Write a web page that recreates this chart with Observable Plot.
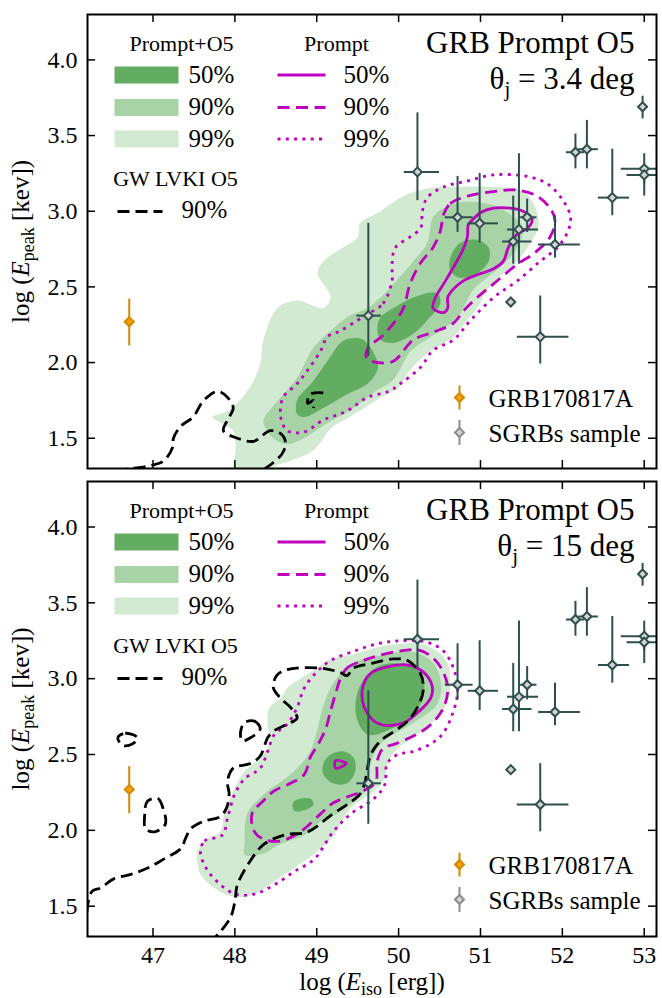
<!DOCTYPE html>
<html>
<head>
<meta charset="utf-8">
<script src="https://cdn.jsdelivr.net/npm/d3@7"></script>
<script src="https://cdn.jsdelivr.net/npm/@observablehq/plot@0.6"></script>
<style>
  html, body { margin: 0; padding: 0; background: #fff; }
  #chart svg { display: block; }
</style>
</head>
<body>
<div id="chart"></div>
<script>
// ---- axes ----
const xDomain = [46.2, 53.15];
const yDomain = [1.3, 4.3];
const xTicks = [47, 48, 49, 50, 51, 52, 53];
const yTicks = [1.5, 2.0, 2.5, 3.0, 3.5, 4.0];

// ---- short GRB sample: log Eiso, log Epeak and error bar ends ----
const sgrbX   = [50.23, 50.72, 50.99, 51.47, 51.57, 51.40, 51.91, 51.37, 51.73, 49.63, 52.16, 52.30, 52.61, 52.98, 53.00, 53.00];
const sgrbY   = [3.26, 2.96, 2.92, 2.88, 2.96, 2.80, 2.78, 2.40, 2.17, 2.31, 3.39, 3.41, 3.09, 3.69, 3.28, 3.24];
const sgrbXlo = [50.07, 50.57, 50.85, 51.33, 51.49, 51.27, 51.71, null, 51.45, 49.49, 52.05, 52.20, 52.44, null, 52.72, 52.79];
const sgrbXhi = [50.50, 50.91, 51.22, 51.71, 51.69, 51.63, 52.22, null, 52.08, 49.79, 52.27, 52.44, 52.82, null, 53.40, 53.40];
const sgrbYlo = [3.07, 2.86, 2.79, 2.65, 2.86, 2.65, 2.69, null, 1.99, 2.04, 3.28, 3.28, 2.97, 3.61, 3.18, 3.10];
const sgrbYhi = [3.65, 3.23, 3.25, 3.38, 3.08, 3.10, 2.97, null, 2.44, 2.92, 3.51, 3.60, 3.41, 3.76, 3.38, 3.30];

// ---- GRB170817A ----
const grbX = [46.71];
const grbY = [2.27];
const grbYlo = [2.11];
const grbYhi = [2.42];

// ---- panel (a): theta_j = 3.4 deg ----
const a99 = [[[47.73,1.64],[47.91,1.68],[48.15,1.81],[48.31,1.99],[48.34,2.13],[48.52,2.36],[48.76,2.41],[49.08,2.36],[49.17,2.43],[49.13,2.48],[49.01,2.59],[49.08,2.67],[49.29,2.75],[49.50,2.83],[49.53,2.92],[49.78,3.00],[50.06,3.10],[50.35,3.15],[50.63,3.16],[51.16,3.16],[51.49,3.14],[51.65,3.05],[51.71,2.94],[51.69,2.87],[51.61,2.79],[51.45,2.67],[51.28,2.59],[51.08,2.48],[50.96,2.36],[50.84,2.28],[50.67,2.17],[50.35,2.06],[50.14,1.95],[49.99,1.83],[49.88,1.80],[49.58,1.70],[49.34,1.62],[49.18,1.57],[48.96,1.42],[48.68,1.35],[48.47,1.31],[48.37,1.22],[48.01,1.22],[48.01,1.46],[47.98,1.55]]];
const a90 = [[[48.35,1.62],[48.56,1.77],[48.76,1.90],[48.96,2.10],[49.17,2.21],[49.37,2.30],[49.62,2.36],[49.78,2.43],[49.94,2.52],[50.18,2.67],[50.35,2.79],[50.42,2.96],[50.55,3.02],[50.75,3.06],[51.16,3.04],[51.36,2.98],[51.49,2.92],[51.51,2.84],[51.45,2.76],[51.28,2.65],[51.08,2.56],[50.91,2.48],[50.72,2.30],[50.42,2.18],[50.14,2.07],[49.94,1.89],[49.69,1.80],[49.45,1.70],[49.13,1.60],[48.84,1.50],[48.64,1.46],[48.47,1.50],[48.37,1.57]]];
const a50 = [
  [[48.76,1.66],[48.76,1.75],[48.96,1.88],[49.13,2.01],[49.29,2.13],[49.41,2.16],[49.57,2.15],[49.74,2.01],[49.74,1.95],[49.62,1.86],[49.37,1.79],[49.08,1.70],[48.84,1.64]],
  [[49.78,2.30],[49.94,2.36],[50.18,2.43],[50.47,2.46],[50.51,2.39],[50.35,2.28],[50.18,2.19],[49.94,2.13],[49.78,2.15],[49.74,2.23]],
  [[50.63,2.69],[50.75,2.79],[50.96,2.81],[51.10,2.76],[51.10,2.67],[50.96,2.59],[50.75,2.56],[50.63,2.61]]
];
const aPrompt50 = [[[50.88,2.93],[51.00,2.99],[51.16,3.02],[51.36,3.02],[51.52,3.00],[51.63,2.95],[51.58,2.89],[51.45,2.85],[51.34,2.76],[51.28,2.67],[51.16,2.62],[50.96,2.58],[50.79,2.54],[50.66,2.48],[50.60,2.43],[50.60,2.36],[50.55,2.33],[50.42,2.36],[50.45,2.43],[50.55,2.52],[50.67,2.63],[50.78,2.74],[50.84,2.83],[50.85,2.91]]];
const aPrompt90 = [[[50.55,2.98],[50.63,3.05],[50.84,3.10],[51.16,3.13],[51.45,3.14],[51.69,3.10],[51.85,3.02],[51.91,2.94],[51.85,2.83],[51.65,2.72],[51.45,2.65],[51.16,2.52],[50.96,2.43],[50.79,2.34],[50.67,2.26],[50.42,2.20],[50.18,2.15],[49.94,2.01],[49.75,2.00],[49.61,2.03],[49.63,2.10],[49.79,2.17],[49.94,2.26],[50.06,2.36],[50.14,2.52],[50.27,2.66],[50.42,2.76],[50.51,2.87]]];
const aPrompt99 = [[[49.62,2.32],[49.81,2.39],[49.92,2.54],[49.92,2.65],[49.96,2.76],[50.14,2.83],[50.27,2.89],[50.29,3.00],[50.35,3.09],[50.55,3.16],[50.84,3.20],[51.16,3.24],[51.57,3.23],[51.82,3.18],[52.01,3.07],[52.10,2.96],[52.07,2.87],[51.94,2.76],[51.73,2.67],[51.45,2.54],[51.16,2.43],[50.88,2.28],[50.67,2.15],[50.42,2.08],[50.27,1.97],[50.02,1.86],[49.88,1.81],[49.62,1.77],[49.37,1.68],[49.08,1.62],[48.84,1.54],[48.64,1.55],[48.56,1.64],[48.59,1.77],[48.76,1.86],[48.89,1.95],[49.05,2.08],[49.13,2.17],[49.29,2.21],[49.50,2.28]]];
const aGWopen = [
  [[46.11,1.25],[46.60,1.29],[46.97,1.32],[47.13,1.35],[47.24,1.44],[47.25,1.50],[47.34,1.58],[47.49,1.64],[47.62,1.75],[47.79,1.81],[47.91,1.77],[47.98,1.70],[47.91,1.62],[47.86,1.55],[48.03,1.50],[48.23,1.48],[48.43,1.55],[48.56,1.53],[48.62,1.47],[48.58,1.40],[48.47,1.34],[48.35,1.29],[48.25,1.22]],
  [[49.08,1.80],[48.92,1.79],[48.89,1.73],[48.96,1.75],[48.96,1.70]]
];
const aGWclosed = [];

// ---- panel (b): theta_j = 15 deg ----
const b99 = [[[47.54,1.81],[47.54,1.86],[47.63,1.93],[47.82,1.99],[47.87,2.11],[48.00,2.28],[48.12,2.39],[48.31,2.48],[48.42,2.57],[48.42,2.63],[48.40,2.70],[48.42,2.81],[48.56,2.87],[48.64,2.94],[48.80,3.00],[49.01,3.07],[49.17,3.13],[49.45,3.16],[49.69,3.20],[50.02,3.23],[50.27,3.23],[50.47,3.18],[50.60,3.10],[50.63,2.98],[50.60,2.85],[50.47,2.74],[50.27,2.65],[50.11,2.59],[49.94,2.51],[49.86,2.42],[49.83,2.34],[49.70,2.26],[49.42,2.15],[49.20,1.96],[48.96,1.84],[48.72,1.75],[48.47,1.66],[48.24,1.58],[48.00,1.56],[47.75,1.62],[47.58,1.71]]];
const b90 = [[[48.12,1.93],[48.15,2.11],[48.36,2.24],[48.56,2.32],[48.76,2.41],[48.92,2.52],[49.00,2.65],[49.08,2.82],[49.20,2.97],[49.37,3.07],[49.57,3.13],[49.86,3.16],[50.11,3.18],[50.27,3.16],[50.43,3.10],[50.52,2.96],[50.47,2.83],[50.27,2.74],[50.06,2.67],[49.86,2.61],[49.74,2.54],[49.66,2.44],[49.62,2.28],[49.45,2.19],[49.25,2.11],[49.05,2.06],[48.85,1.97],[48.56,1.91],[48.31,1.84],[48.12,1.84]]];
const b50 = [
  [[49.58,3.00],[49.79,3.09],[50.12,3.09],[50.28,3.03],[50.31,2.90],[50.19,2.77],[49.91,2.67],[49.63,2.63],[49.50,2.72],[49.48,2.87]],
  [[49.08,2.44],[49.17,2.50],[49.33,2.52],[49.45,2.48],[49.47,2.39],[49.37,2.31],[49.20,2.31],[49.08,2.37]],
  [[48.72,2.19],[48.92,2.21],[48.96,2.17],[48.84,2.13],[48.72,2.13]]
];
const bPrompt50 = [
  [[49.57,2.96],[49.67,3.04],[49.88,3.08],[50.12,3.09],[50.31,3.04],[50.41,2.95],[50.39,2.87],[50.24,2.78],[50.07,2.71],[49.88,2.69],[49.73,2.71],[49.62,2.77],[49.56,2.85]],
  [[49.23,2.46],[49.36,2.44],[49.23,2.41]]
];
const bPrompt90 = [[[49.29,3.00],[49.37,3.07],[49.57,3.12],[49.74,3.15],[49.99,3.18],[50.23,3.19],[50.39,3.15],[50.52,3.07],[50.60,2.94],[50.55,2.81],[50.40,2.70],[50.21,2.63],[49.96,2.57],[49.81,2.54],[49.74,2.46],[49.72,2.32],[49.57,2.26],[49.37,2.22],[49.20,2.18],[49.05,2.11],[48.80,1.99],[48.56,1.93],[48.36,1.94],[48.24,1.99],[48.21,2.11],[48.34,2.19],[48.48,2.26],[48.68,2.31],[48.85,2.37],[48.92,2.48],[49.02,2.57],[49.11,2.67],[49.17,2.79],[49.23,2.90]]];
const bPrompt99 = [[[47.58,1.86],[47.63,1.93],[47.85,1.97],[47.91,2.08],[48.00,2.24],[48.12,2.34],[48.31,2.41],[48.40,2.52],[48.48,2.63],[48.64,2.70],[48.76,2.81],[48.85,2.94],[49.01,3.05],[49.17,3.12],[49.45,3.18],[49.74,3.23],[50.02,3.25],[50.35,3.24],[50.55,3.18],[50.67,3.07],[50.72,2.92],[50.66,2.77],[50.53,2.63],[50.39,2.57],[50.18,2.52],[49.99,2.50],[49.86,2.44],[49.83,2.30],[49.70,2.21],[49.42,2.11],[49.20,1.99],[48.97,1.81],[48.73,1.73],[48.48,1.64],[48.24,1.58],[48.00,1.58],[47.75,1.68],[47.63,1.77]]];
const bGWopen = [[[46.11,1.23],[46.18,1.40],[46.21,1.53],[46.26,1.60],[46.36,1.62],[46.52,1.68],[46.73,1.71],[46.93,1.75],[47.13,1.81],[47.34,1.88],[47.40,1.95],[47.46,2.01],[47.62,2.06],[47.82,2.09],[47.90,2.15],[47.93,2.24],[47.91,2.32],[47.98,2.41],[48.19,2.44],[48.31,2.49],[48.37,2.57],[48.40,2.61],[48.46,2.65],[48.64,2.70],[48.76,2.74],[48.68,2.81],[48.56,2.87],[48.47,2.94],[48.51,3.02],[48.64,3.06],[49.05,3.07],[49.29,3.04],[49.37,3.02],[49.45,3.07],[49.66,3.10],[49.94,3.13],[50.11,3.12],[50.27,3.03],[50.30,2.92],[50.23,2.81],[50.11,2.72],[49.94,2.65],[49.78,2.59],[49.66,2.50],[49.62,2.41],[49.59,2.32],[49.53,2.24],[49.37,2.17],[49.20,2.11],[48.89,1.99],[48.61,1.97],[48.36,1.91],[48.19,1.80],[48.03,1.64],[48.00,1.53],[47.95,1.43],[47.82,1.33],[47.64,1.23]]];
const bGWclosed = [
  [[46.57,2.61],[46.66,2.64],[46.81,2.61],[46.75,2.57],[46.63,2.56]],
  [[46.93,2.19],[47.06,2.21],[47.12,2.15],[47.15,2.04],[47.02,1.99],[46.91,2.01],[46.90,2.11]],
  [[48.12,2.71],[48.24,2.72],[48.31,2.67],[48.19,2.61],[48.09,2.59],[48.07,2.65]]
];

// ---- legend text ----
const levelLabels = ["50%", "90%", "99%"];
const gwLabel = "90%";
const titleText = "GRB Prompt O5";
const thetaLabels = ["θj = 3.4 deg", "θj = 15 deg"];
const pointLabels = ["GRB170817A", "SGRBs sample"];

// ---- styling ----
const W = 662, ML = 87, MR = 6;
const FONT = "Liberation Serif";
const GREEN = {c50: "#63ad63", c90: "#a7d3a7", c99: "#d2e9d2"};
const MAG = "#bf00bf";
const SLATE = "#2f4f4f";
const ORANGE_FILL = "#f3a000", ORANGE = "#d28a00";
const DASH_M = "12,6.5", DOT_M = "3,5.3", DASH_K = "12,6";
const TICK_FS = 24, LEG_FS = 25, LEG_TITLE_FS = 22, TITLE_FS = 31, LABEL_FS = 25;

// symbols for legend swatches and markers
const segment = (w) => ({draw(ctx) { ctx.moveTo(-w / 2, 0); ctx.lineTo(w / 2, 0); }});
const patch = (w, h) => ({draw(ctx) { ctx.rect(-w / 2, -h / 2, w, h); }});
const vbar = (h) => ({draw(ctx) { ctx.moveTo(0, -h / 2); ctx.lineTo(0, h / 2); }});
const diamond = {draw(ctx, size) { const r = Math.sqrt(size / 2); ctx.moveTo(0, -r); ctx.lineTo(r, 0); ctx.lineTo(0, r); ctx.lineTo(-r, 0); ctx.closePath(); }};

// labels with italics and subscripts
const rich = {
  "log (Epeak [kev])": [{t: "log ("}, {t: "E", i: true}, {t: "peak", sub: 5, fs: 18}, {t: " [kev])"}],
  "log (Eiso [erg])": [{t: "log ("}, {t: "E", i: true}, {t: "iso", sub: 5, fs: 18}, {t: " [erg])"}],
  "θj = 3.4 deg": [{t: "θ"}, {t: "j", sub: 7, fs: 21}, {t: " = 3.4 deg"}],
  "θj = 15 deg": [{t: "θ"}, {t: "j", sub: 7, fs: 21}, {t: " = 15 deg"}]
};
function enrich(svg) {
  const ns = "http://www.w3.org/2000/svg";
  for (const el of svg.querySelectorAll("text")) {
    const parts = rich[el.textContent];
    if (!parts) continue;
    el.textContent = "";
    let shift = 0;
    for (const p of parts) {
      const s = document.createElementNS(ns, "tspan");
      s.textContent = p.t;
      if (p.i) s.setAttribute("font-style", "italic");
      if (p.fs) s.setAttribute("font-size", p.fs);
      const target = p.sub || 0;
      if (target !== shift) { s.setAttribute("dy", target - shift); shift = target; }
      el.appendChild(s);
    }
  }
}

function legendMarks() {
  const t = (s, dx, dy, o = {}) => Plot.text([s], {frameAnchor: "top-left", dx, dy, text: d => d, lineAnchor: "bottom", textAnchor: "start", fontFamily: FONT, fontSize: LEG_FS, fill: "black", ...o});
  const sym = (symbol, dx, dy, o) => Plot.dot([0], {frameAnchor: "top-left", dx, dy, r: 1, symbol, ...o});
  const rows = [60.5, 93, 124.5];
  const base = [68, 100, 132];
  const greens = [GREEN.c50, GREEN.c90, GREEN.c99];
  const dashes = [null, DASH_M, DOT_M];
  const marks = [
    t("Prompt+O5", 94, 36, {textAnchor: "middle", fontSize: LEG_TITLE_FS}),
    t("Prompt", 249, 36, {textAnchor: "middle", fontSize: LEG_TITLE_FS}),
    t("GW LVKI O5", 88, 171, {textAnchor: "middle", fontSize: LEG_TITLE_FS})
  ];
  levelLabels.forEach((lab, k) => {
    marks.push(sym(patch(64, 17), 59, rows[k], {fill: greens[k], stroke: "none"}));
    marks.push(t(lab, 101, base[k]));
    marks.push(sym(segment(48), 214, rows[k], {fill: "none", stroke: MAG, strokeWidth: 2.8, strokeDasharray: dashes[k], strokeLinecap: "butt"}));
    marks.push(t(lab, 256, base[k]));
  });
  marks.push(sym(segment(45), 52.5, 197, {fill: "none", stroke: "black", strokeWidth: 2.8, strokeDasharray: DASH_K, strokeLinecap: "butt"}));
  marks.push(t(gwLabel, 94, 203));
  // marker legend, lower right
  marks.push(sym(vbar(24), 372, 383, {fill: "none", stroke: ORANGE, strokeWidth: 2}));
  marks.push(sym(diamond, 372, 383, {r: 3.6, fill: ORANGE_FILL, stroke: ORANGE, strokeWidth: 2}));
  marks.push(t(pointLabels[0], 401, 392));
  marks.push(sym(vbar(25), 372, 418, {fill: "none", stroke: "#8c8c8c", strokeWidth: 2}));
  marks.push(sym(diamond, 372, 418, {r: 3.6, fill: "#d3d3d3", stroke: "#8c8c8c", strokeWidth: 2}));
  marks.push(t(pointLabels[1], 401, 427));
  return marks;
}

function panel(cfg) {
  const innerH = cfg.height - cfg.marginTop - cfg.marginBottom;
  const innerW = W - ML - MR;
  const poly = (data, o) => Plot.line(data, {x: d => d[0], y: d => d[1], clip: true, ...o});
  const marks = [];
  for (const c of cfg.c99) marks.push(poly(c, {curve: "catmull-rom-closed", fill: GREEN.c99, stroke: "none"}));
  for (const c of cfg.c90) marks.push(poly(c, {curve: "catmull-rom-closed", fill: GREEN.c90, stroke: "none"}));
  for (const c of cfg.c50) marks.push(poly(c, {curve: "catmull-rom-closed", fill: GREEN.c50, stroke: "none"}));
  for (const c of cfg.p99) marks.push(poly(c, {curve: "catmull-rom-closed", fill: "none", stroke: MAG, strokeWidth: 2.8, strokeDasharray: DOT_M, strokeLinecap: "butt"}));
  for (const c of cfg.p90) marks.push(poly(c, {curve: "catmull-rom-closed", fill: "none", stroke: MAG, strokeWidth: 2.8, strokeDasharray: DASH_M, strokeLinecap: "butt"}));
  for (const c of cfg.p50) marks.push(poly(c, {curve: "catmull-rom-closed", fill: "none", stroke: MAG, strokeWidth: 2.8}));
  for (const c of cfg.gwOpen) marks.push(poly(c, {curve: "catmull-rom", fill: "none", stroke: "black", strokeWidth: 2.8, strokeDasharray: DASH_K, strokeLinecap: "butt"}));
  for (const c of cfg.gwClosed) marks.push(poly(c, {curve: "catmull-rom-closed", fill: "none", stroke: "black", strokeWidth: 2.8, strokeDasharray: DASH_K, strokeLinecap: "butt"}));

  // data points with error bars
  const idx = d3.range(sgrbX.length);
  marks.push(Plot.ruleX(idx.filter(i => sgrbYlo[i] != null), {x: i => sgrbX[i], y1: i => sgrbYlo[i], y2: i => sgrbYhi[i], stroke: SLATE, strokeWidth: 2, clip: true}));
  marks.push(Plot.ruleY(idx.filter(i => sgrbXlo[i] != null), {y: i => sgrbY[i], x1: i => sgrbXlo[i], x2: i => sgrbXhi[i], stroke: SLATE, strokeWidth: 2, clip: true}));
  marks.push(Plot.dot(idx, {x: i => sgrbX[i], y: i => sgrbY[i], symbol: diamond, r: 3.6, fill: "#d3d3d3", stroke: SLATE, strokeWidth: 2}));
  const gi = d3.range(grbX.length);
  marks.push(Plot.ruleX(gi, {x: i => grbX[i], y1: i => grbYlo[i], y2: i => grbYhi[i], stroke: ORANGE, strokeWidth: 2}));
  marks.push(Plot.dot(gi, {x: i => grbX[i], y: i => grbY[i], symbol: diamond, r: 3.6, fill: ORANGE_FILL, stroke: ORANGE, strokeWidth: 2}));

  // inward ticks on all four sides
  const tk = {stroke: "black", strokeWidth: 1.5};
  marks.push(Plot.tickX(xTicks, {x: d => d, insetTop: innerH - 8, ...tk}));
  marks.push(Plot.tickX(xTicks, {x: d => d, insetBottom: innerH - 8, ...tk}));
  marks.push(Plot.tickY(yTicks, {y: d => d, insetRight: innerW - 8, ...tk}));
  marks.push(Plot.tickY(yTicks, {y: d => d, insetLeft: innerW - 8, ...tk}));
  marks.push(Plot.frame({stroke: "black", strokeWidth: 2}));

  marks.push(Plot.axisY({ticks: yTicks, tickSize: 0, tickPadding: 10, tickFormat: d3.format(".1f"), fontSize: TICK_FS, fontFamily: FONT, label: null}));
  if (cfg.showX) {
    marks.push(Plot.axisX({ticks: xTicks, tickSize: 0, tickPadding: 9, tickFormat: d => String(d), fontSize: TICK_FS, fontFamily: FONT, label: null}));
    marks.push(Plot.text(["log (Eiso [erg])"], {frameAnchor: "bottom", dy: 53, text: d => d, textAnchor: "middle", lineAnchor: "bottom", fontSize: LABEL_FS, fontFamily: FONT, fill: "black"}));
  }
  marks.push(Plot.text(["log (Epeak [kev])"], {frameAnchor: "left", dx: -59, rotate: -90, text: d => d, textAnchor: "middle", lineAnchor: "bottom", fontSize: LABEL_FS, fontFamily: FONT, fill: "black"}));

  // title block
  marks.push(Plot.text([titleText], {frameAnchor: "top-right", dx: -22, dy: 38, text: d => d, textAnchor: "end", lineAnchor: "bottom", fontSize: TITLE_FS, fontFamily: FONT, fill: "black"}));
  marks.push(Plot.text([cfg.theta], {frameAnchor: "top-right", dx: -22, dy: 74, text: d => d, textAnchor: "end", lineAnchor: "bottom", fontSize: TITLE_FS, fontFamily: FONT, fill: "black"}));

  marks.push(...legendMarks());

  const svg = Plot.plot({
    width: W,
    height: cfg.height,
    marginLeft: ML,
    marginRight: MR,
    marginTop: cfg.marginTop,
    marginBottom: cfg.marginBottom,
    x: {domain: xDomain, axis: cfg.showX ? undefined : null},
    y: {domain: yDomain},
    style: {fontFamily: FONT, background: "white", color: "black", overflow: "visible"},
    marks
  });
  enrich(svg);
  return svg;
}

const chart = document.getElementById("chart");
chart.appendChild(panel({height: 474, marginTop: 14, marginBottom: 6, showX: false, theta: thetaLabels[0],
  c99: a99, c90: a90, c50: a50, p50: aPrompt50, p90: aPrompt90, p99: aPrompt99, gwOpen: aGWopen, gwClosed: aGWclosed}));
chart.appendChild(panel({height: 524, marginTop: 7, marginBottom: 62, showX: true, theta: thetaLabels[1],
  c99: b99, c90: b90, c50: b50, p50: bPrompt50, p90: bPrompt90, p99: bPrompt99, gwOpen: bGWopen, gwClosed: bGWclosed}));
</script>
</body>
</html>
